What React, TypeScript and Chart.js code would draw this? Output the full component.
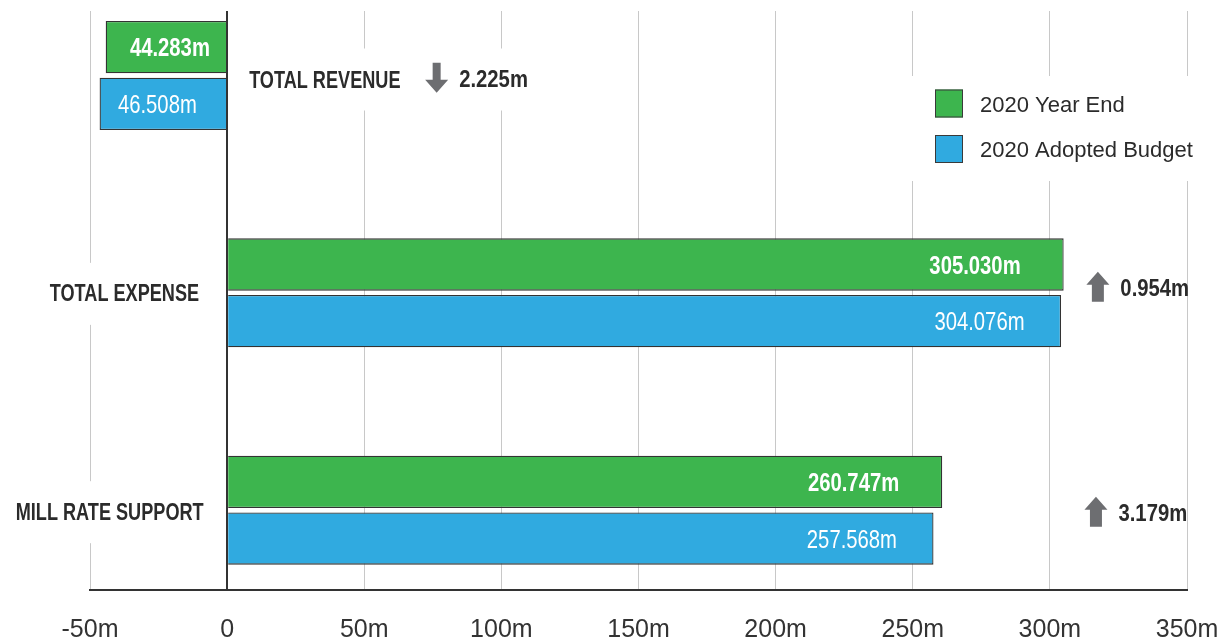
import React, { useEffect, useRef } from "react";
import { Chart, registerables } from "chart.js";

Chart.register(...registerables);

const categories = ["TOTAL REVENUE", "TOTAL EXPENSE", "MILL RATE SUPPORT"];
const yearEnd = [-44.283, 305.03, 260.747];
const adoptedBudget = [-46.508, 304.076, 257.568];
const seriesNames = ["2020 Year End", "2020 Adopted Budget"];
const deltas = ["2.225m", "0.954m", "3.179m"];
const deltaDirections = ["down", "up", "up"];
const xTicks = [-50, 0, 50, 100, 150, 200, 250, 300, 350];

const GREEN = "#3db54e";
const BLUE = "#30aae0";
const BORDER = "#333333";
const TEXT = "#2b2b2b";
const ARROW = "#6d6e71";
const FAMILY = '"Liberation Sans", Arial, sans-serif';

function drawText(
  ctx: CanvasRenderingContext2D,
  text: string,
  x: number,
  capCenterY: number,
  size: number,
  bold: boolean,
  sx: number,
  align: "left" | "right" | "center",
  color: string
) {
  ctx.save();
  ctx.font = `${bold ? "bold " : ""}${size}px ${FAMILY}`;
  ctx.fillStyle = color;
  ctx.textBaseline = "alphabetic";
  ctx.textAlign = "left";
  const w = ctx.measureText(text).width * sx;
  let left = x;
  if (align === "right") left = x - w;
  if (align === "center") left = x - w / 2;
  ctx.translate(left, capCenterY + size * 0.358);
  ctx.scale(sx, 1);
  ctx.fillText(text, 0, 0);
  ctx.restore();
}

function drawArrow(ctx: CanvasRenderingContext2D, cx: number, top: number, dir: string) {
  const h = 30;
  const headW = 23;
  const headH = 13;
  const shaftW = dir === "down" ? 8 : 12;
  ctx.save();
  ctx.fillStyle = ARROW;
  ctx.beginPath();
  if (dir === "up") {
    ctx.moveTo(cx, top);
    ctx.lineTo(cx + headW / 2, top + headH);
    ctx.lineTo(cx + shaftW / 2, top + headH);
    ctx.lineTo(cx + shaftW / 2, top + h);
    ctx.lineTo(cx - shaftW / 2, top + h);
    ctx.lineTo(cx - shaftW / 2, top + headH);
    ctx.lineTo(cx - headW / 2, top + headH);
  } else {
    ctx.moveTo(cx - shaftW / 2, top);
    ctx.lineTo(cx + shaftW / 2, top);
    ctx.lineTo(cx + shaftW / 2, top + h - headH);
    ctx.lineTo(cx + headW / 2, top + h - headH);
    ctx.lineTo(cx, top + h);
    ctx.lineTo(cx - headW / 2, top + h - headH);
    ctx.lineTo(cx - shaftW / 2, top + h - headH);
  }
  ctx.closePath();
  ctx.fill();
  ctx.restore();
}

const decorPlugin = {
  id: "decor",
  beforeDatasetsDraw(chart: any) {
    const ctx: CanvasRenderingContext2D = chart.ctx;
    const x = chart.scales.x;
    const y = chart.scales.y;
    const zero = x.getPixelForValue(0);
    ctx.save();
    // white backgrounds that hide gridlines behind labels
    ctx.fillStyle = "#ffffff";
    const rY0 = y.getPixelForValue(0);
    ctx.fillRect(zero + 12, rY0 - 27, 290, 62);
    const rY1 = y.getPixelForValue(1);
    ctx.fillRect(40, rY1 - 30, 170, 62);
    const rY2 = y.getPixelForValue(2);
    ctx.fillRect(6, rY2 - 29, 208, 62);
    ctx.fillRect(905, 76, 315, 105);

    // category labels
    const capsSx = 0.755;
    drawText(ctx, categories[0], zero + 22, rY0 + 3.7, 24, true, capsSx, "left", TEXT);
    drawText(ctx, categories[1], zero - 28, rY1, 24, true, capsSx, "right", TEXT);
    drawText(ctx, categories[2], zero - 23.5, rY2 + 1, 24, true, capsSx, "right", TEXT);

    // delta annotations
    const deltaX = [76.4, 317.5, 316.8];
    const deltaDy = [2.2, -6, 1.5];
    deltas.forEach((d, i) => {
      const cy = y.getPixelForValue(i) + deltaDy[i];
      const ax = x.getPixelForValue(deltaX[i]);
      drawArrow(ctx, ax, cy - 15, deltaDirections[i]);
      drawText(ctx, d, ax + 22.5, cy + 0.5, 24, true, 0.845, "left", TEXT);
    });

    // legend
    const colors = [GREEN, BLUE];
    const legendY = [89.5, 135];
    seriesNames.forEach((n, i) => {
      ctx.fillStyle = colors[i];
      ctx.fillRect(935, legendY[i], 28, 28);
      ctx.strokeStyle = "#3a3a3a";
      ctx.lineWidth = 1;
      ctx.strokeRect(935.5, legendY[i] + 0.5, 27, 27);
      drawText(ctx, n, 980, legendY[i] + 14.5, 22, false, 1, "left", TEXT);
    });
    ctx.restore();
  },
  afterDatasetsDraw(chart: any) {
    const ctx: CanvasRenderingContext2D = chart.ctx;
    const pads = [43, 36.5];
    const negDx = [4, -5.5];
    [0, 1].forEach((di) => {
      const meta = chart.getDatasetMeta(di);
      const vals = di === 0 ? yearEnd : adoptedBudget;
      meta.data.forEach((bar: any, j: number) => {
        const v = vals[j];
        const label = Math.abs(v).toFixed(3) + "m";
        if (v >= 0) {
          drawText(ctx, label, bar.x - pads[di], bar.y, 25.5, di === 0, 0.795, "right", "#ffffff");
        } else {
          drawText(ctx, label, (bar.x + bar.base) / 2 + negDx[di], bar.y, 25.5, di === 0, 0.795, "center", "#ffffff");
        }
      });
    });
  },
};

export default function App() {
  const ref = useRef<HTMLCanvasElement | null>(null);
  useEffect(() => {
    document.body.style.margin = "0";
    if (!ref.current) return;
    const chart = new Chart(ref.current, {
      type: "bar",
      data: {
        datasets: [
          {
            label: seriesNames[0],
            data: yearEnd.map((v, i) => ({ x: v, y: i })),
            backgroundColor: GREEN,
            borderColor: BORDER,
            borderWidth: 1.3,
          },
          {
            label: seriesNames[1],
            data: adoptedBudget.map((v, i) => ({ x: v, y: i })),
            backgroundColor: BLUE,
            borderColor: BORDER,
            borderWidth: 1.3,
          },
        ],
      },
      options: {
        animation: false,
        responsive: false,
        devicePixelRatio: 1,
        indexAxis: "y",
        categoryPercentage: 0.5217,
        barPercentage: 0.922,
        layout: { padding: { left: 90, right: 40, top: 11, bottom: 0 } },
        plugins: { legend: { display: false }, tooltip: { enabled: false } },
        scales: {
          x: {
            type: "linear",
            min: -50,
            max: 350,
            afterBuildTicks: (s: any) => {
              s.ticks = xTicks.map((v) => ({ value: v }));
            },
            afterFit: (s: any) => {
              s.height = 54;
              s.paddingLeft = 0;
              s.paddingRight = 0;
            },
            ticks: {
              padding: 25,
              color: "#333333",
              font: { family: FAMILY, size: 25 },
              callback: (v: any) => (Number(v) === 0 ? "0" : `${v}m`),
            },
            grid: {
              drawTicks: false,
              color: (c: any) => (c.tick && c.tick.value === 0 ? "#333333" : "#c8c8c8"),
              lineWidth: (c: any) => (c.tick && c.tick.value === 0 ? 2 : 1),
            },
            border: { display: true, color: "#333333", width: 2 },
          },
          y: {
            type: "linear",
            reverse: true,
            offset: false,
            min: -0.2968,
            max: 2.3672,
            display: false,
            afterBuildTicks: (s: any) => {
              s.ticks = categories.map((_, i) => ({ value: i }));
            },
            grid: { display: false, offset: false },
          },
        },
      },
      plugins: [decorPlugin],
    });
    return () => chart.destroy();
  }, []);
  return (
    <div style={{ width: 1227, height: 644 }}>
      <canvas ref={ref} width={1227} height={644} style={{ display: "block" }} />
    </div>
  );
}
